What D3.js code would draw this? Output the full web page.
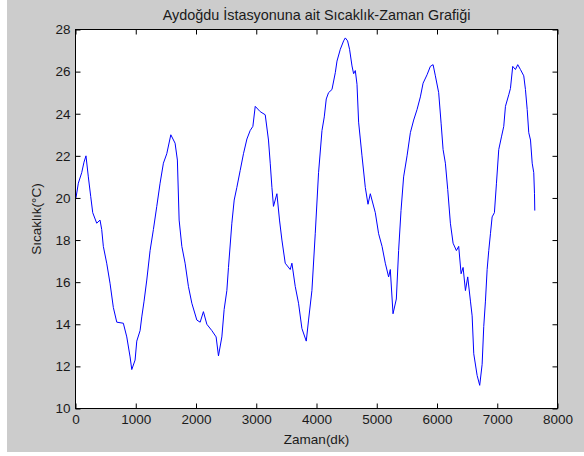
<!DOCTYPE html>
<html>
<head>
<meta charset="utf-8">
<script src="https://cdn.jsdelivr.net/npm/d3@7"></script>
<style>
  html, body { margin: 0; padding: 0; background: #ffffff; }
  svg { display: block; }
  text { font-family: "Liberation Sans", Arial, sans-serif; fill: #1a1a1a; }
</style>
</head>
<body>
<svg id="chart" width="584" height="456"></svg>
<script>
// ---- data ----
const timeMin = [8, 47, 103, 141, 174, 213, 253, 286, 352, 407, 435, 462, 518, 573, 628, 685, 794, 851, 906, 934,
  989, 1017, 1072, 1100, 1138, 1183, 1238, 1293, 1349, 1404, 1459, 1515, 1582, 1653, 1691, 1720, 1765, 1819, 1874, 1931,
  2014, 2069, 2123, 2180, 2263, 2334, 2373, 2429, 2467, 2512, 2539, 2595, 2634, 2678, 2733, 2788, 2845, 2899, 2944, 2983,
  3065, 3149, 3203, 3232, 3260, 3286, 3343, 3386, 3426, 3481, 3564, 3592, 3647, 3702, 3758, 3830, 3868, 3924, 3979, 4034,
  4091, 4129, 4162, 4200, 4257, 4312, 4340, 4395, 4450, 4478, 4516, 4549, 4589, 4616, 4644, 4672, 4699, 4755, 4810, 4855,
  4893, 4976, 5031, 5088, 5142, 5197, 5225, 5270, 5325, 5363, 5403, 5446, 5503, 5558, 5613, 5669, 5724, 5769, 5835, 5890,
  5935, 5973, 6028, 6068, 6101, 6139, 6178, 6222, 6267, 6322, 6360, 6400, 6433, 6472, 6510, 6555, 6583, 6610, 6666, 6709,
  6749, 6776, 6804, 6832, 6859, 6887, 6915, 6953, 6987, 7025, 7070, 7108, 7136, 7191, 7219, 7257, 7302, 7340, 7385, 7440,
  7468, 7497, 7523, 7552, 7580, 7606, 7618, 7623];
const tempC = [20.0, 20.7, 21.2, 21.7, 22.0, 21.0, 20.06, 19.3, 18.8, 18.95, 18.5, 17.7, 16.9, 15.95, 14.8, 14.1, 14.05, 13.4, 12.45, 11.85,
  12.3, 13.2, 13.7, 14.35, 15.1, 16.1, 17.5, 18.5, 19.6, 20.7, 21.65, 22.1, 23.0, 22.6, 21.8, 18.95, 17.7, 16.9, 15.8, 15.0,
  14.2, 14.1, 14.6, 14.0, 13.7, 13.4, 12.5, 13.4, 14.7, 15.6, 16.7, 18.8, 19.9, 20.5, 21.3, 22.1, 22.8, 23.2, 23.4, 24.35,
  24.1, 23.95, 22.75, 21.65, 20.5, 19.6, 20.2, 18.95, 18.0, 16.9, 16.6, 16.9, 15.8, 15.0, 13.8, 13.2, 14.2, 15.6, 18.3, 21.2,
  23.2, 23.85, 24.7, 25.0, 25.15, 25.95, 26.5, 27.06, 27.46, 27.6, 27.46, 27.06, 26.27, 25.9, 26.05, 25.4, 23.6, 22.0, 20.5, 19.7,
  20.2, 19.3, 18.3, 17.7, 16.9, 16.25, 16.6, 14.5, 15.2, 17.5, 19.4, 21.0, 22.0, 23.1, 23.7, 24.2, 24.8, 25.45, 25.85, 26.25,
  26.33, 25.8, 25.0, 23.55, 22.3, 21.65, 20.4, 18.8, 17.85, 17.5, 17.7, 16.4, 16.7, 15.6, 16.25, 15.1, 14.4, 12.6, 11.57, 11.1,
  12.1, 13.9, 15.1, 16.6, 17.5, 18.3, 19.1, 19.3, 20.7, 22.3, 22.9, 23.4, 24.35, 24.9, 25.2, 26.25, 26.1, 26.33, 26.1, 25.8,
  25.15, 24.2, 23.1, 22.75, 21.65, 21.2, 20.2, 19.4];
const xTicks = [0, 1000, 2000, 3000, 4000, 5000, 6000, 7000, 8000];
const yTicks = [10, 12, 14, 16, 18, 20, 22, 24, 26, 28];
const titleText = "Aydoğdu İstasyonuna ait Sıcaklık-Zaman Grafiği";
const xLabel = "Zaman(dk)";
const yLabel = "Sıcaklık(°C)";

// ---- layout ----
const svg = d3.select("#chart");
const L = 75.5, R = 557.5, T = 29.5, B = 408.5;
const fs = 13.5;

svg.append("rect").attr("x", 7).attr("y", 0).attr("width", 577).attr("height", 452).attr("fill", "#cccccc");
svg.append("rect").attr("x", L).attr("y", T).attr("width", R - L).attr("height", B - T).attr("fill", "#ffffff");

const x = d3.scaleLinear().domain([0, 8000]).range([L, R]);
const y = d3.scaleLinear().domain([10, 28]).range([B, T]);

const pts = timeMin.map((t, i) => [t, tempC[i]]);

svg.append("path")
  .datum(pts)
  .attr("fill", "none")
  .attr("stroke", "#0000ff")
  .attr("stroke-width", 1)
  .attr("d", d3.line().x(d => x(d[0])).y(d => y(d[1])));

function styleAxis(g) {
  g.select(".domain").remove();
  g.selectAll(".tick line").attr("stroke", "#000");
  g.selectAll(".tick text").style("font-family", "Liberation Sans, Arial, sans-serif").style("font-size", fs + "px").attr("fill", "#1a1a1a");
}

svg.append("g").attr("transform", `translate(0,${B})`)
  .call(d3.axisBottom(x).tickValues(xTicks).tickFormat(d3.format("d")).tickSizeInner(-5).tickSizeOuter(0).tickPadding(6))
  .call(styleAxis);
svg.append("g").attr("transform", `translate(0,${T})`)
  .call(d3.axisTop(x).tickValues(xTicks).tickFormat("").tickSizeInner(-5).tickSizeOuter(0))
  .call(styleAxis);
svg.append("g").attr("transform", `translate(${L},0)`)
  .call(d3.axisLeft(y).tickValues(yTicks).tickFormat(d3.format("d")).tickSizeInner(-5).tickSizeOuter(0).tickPadding(5))
  .call(styleAxis);
svg.append("g").attr("transform", `translate(${R},0)`)
  .call(d3.axisRight(y).tickValues(yTicks).tickFormat("").tickSizeInner(-5).tickSizeOuter(0))
  .call(styleAxis);

svg.append("rect").attr("x", L).attr("y", T).attr("width", R - L).attr("height", B - T)
  .attr("fill", "none").attr("stroke", "#000").attr("stroke-width", 1);

svg.append("text").attr("x", (L + R) / 2).attr("y", 20).attr("text-anchor", "middle")
  .style("font-size", "14.4px").text(titleText);
svg.append("text").attr("x", (L + R) / 2).attr("y", 444).attr("text-anchor", "middle")
  .style("font-size", fs + "px").text(xLabel);
svg.append("text").attr("transform", `translate(41,${(T + B) / 2}) rotate(-90)`).attr("text-anchor", "middle")
  .style("font-size", fs + "px").text(yLabel);
</script>
</body>
</html>
